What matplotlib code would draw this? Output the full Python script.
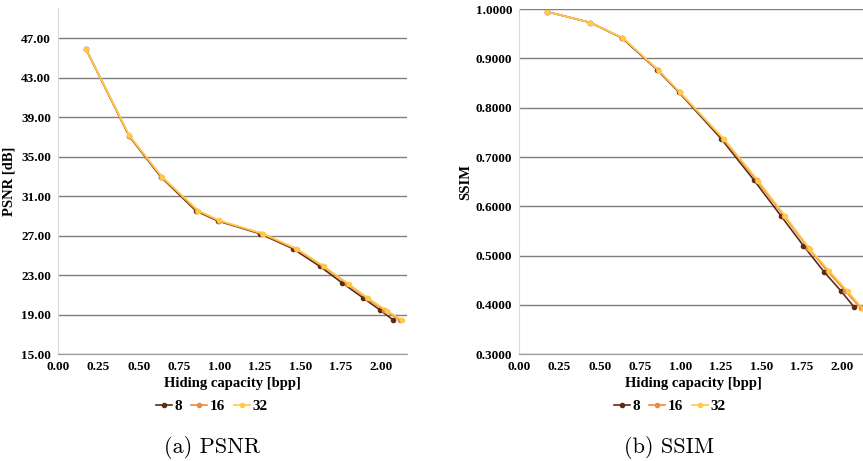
import matplotlib.pyplot as plt

# hiding capacity (bpp) for each block size
cap8 = [0.173, 0.44, 0.636, 0.855, 0.988, 1.25, 1.452, 1.62, 1.76, 1.888, 1.99, 2.075]
cap16 = [0.173, 0.44, 0.640, 0.862, 0.994, 1.262, 1.47, 1.638, 1.788, 1.91, 2.02, 2.115]
cap32 = [0.173, 0.44, 0.642, 0.868, 0.998, 1.27, 1.48, 1.645, 1.80, 1.92, 2.035, 2.128]

# PSNR [dB]
psnr8 = [45.93, 37.1, 32.97, 29.5, 28.5, 27.2, 25.7, 23.9, 22.2, 20.7, 19.5, 18.45]
psnr16 = [45.93, 37.15, 32.98, 29.52, 28.52, 27.2, 25.67, 23.9, 22.15, 20.67, 19.45, 18.45]
psnr32 = [45.93, 37.2, 33.0, 29.55, 28.55, 27.2, 25.65, 23.9, 22.1, 20.65, 19.4, 18.45]

# SSIM
ssim8 = [0.995, 0.973, 0.942, 0.877, 0.832, 0.7375, 0.654, 0.581, 0.520, 0.467, 0.429, 0.395]
ssim16 = [0.995, 0.973, 0.942, 0.876, 0.831, 0.737, 0.653, 0.581, 0.516, 0.468, 0.428, 0.393]
ssim32 = [0.995, 0.973, 0.942, 0.875, 0.831, 0.736, 0.652, 0.581, 0.513, 0.469, 0.427, 0.392]

labels = ["8", "16", "32"]
colors = ["#5b2c14", "#f08a3c", "#ffc94c"]
xticks = [0, 0.25, 0.5, 0.75, 1.0, 1.25, 1.5, 1.75, 2.0]

tickfont = dict(family="Liberation Serif", weight="bold", size=9.5)

fig = plt.figure(figsize=(8.63, 4.61), dpi=100)
ax1 = fig.add_axes([0.0672, 0.232, 0.4044, 0.751])
ax2 = fig.add_axes([0.6014, 0.232, 0.4044, 0.748])


def style(ax):
    ax.grid(axis="y", color="#7f7f7f", linewidth=1)
    ax.set_axisbelow(True)
    for s in ["top", "right"]:
        ax.spines[s].set_visible(False)
    ax.spines["left"].set_color("#d9d9d9")
    ax.spines["bottom"].set_color("#9a9a9a")
    ax.tick_params(length=0, pad=5)
    ax.set_xlim(0, 2.16)
    ax.set_xticks(xticks)
    ax.set_xticklabels(["%.2f" % t for t in xticks], fontdict=tickfont)
    ax.set_xlabel("Hiding capacity [bpp]", family="Liberation Serif",
                  weight="bold", size=10.5, labelpad=3)


caps = [cap8, cap16, cap32]
for cap, y, lab, c in zip(caps, [psnr8, psnr16, psnr32], labels, colors):
    ax1.plot(cap, y, color=c, marker="o", markersize=3, linewidth=1.2, label=lab)
for cap, y, lab, c in zip(caps, [ssim8, ssim16, ssim32], labels, colors):
    ax2.plot(cap, y, color=c, marker="o", markersize=3, linewidth=1.2, label=lab)

style(ax1)
style(ax2)

yt1 = [15, 19, 23, 27, 31, 35, 39, 43, 47]
ax1.set_ylim(15, 50.1)
ax1.set_yticks(yt1)
ax1.set_yticklabels(["%.2f" % t for t in yt1], fontdict=tickfont)
ax1.set_ylabel("PSNR [dB]", family="Liberation Serif", weight="bold", size=10.5, labelpad=4)

yt2 = [0.3, 0.4, 0.5, 0.6, 0.7, 0.8, 0.9, 1.0]
ax2.set_ylim(0.3, 1.0)
ax2.set_yticks(yt2)
ax2.set_yticklabels(["%.4f" % t for t in yt2], fontdict=tickfont)
ax2.set_ylabel("SSIM", family="Liberation Serif", weight="bold", size=10.5, labelpad=2)

legfont = dict(family="Liberation Serif", weight="bold", size=11)
for ax, cx in [(ax1, 212 / 863), (ax2, 670 / 863)]:
    ax.legend(loc="center", bbox_to_anchor=(cx, 1 - 406 / 461), bbox_transform=fig.transFigure,
              ncol=3, frameon=False, prop=legfont, handlelength=1.0, handletextpad=0.2,
              columnspacing=0.6, borderpad=0)

fig.text(212 / 863, 1 - 447 / 461, "(a) PSNR", family="cmr10", size=16, ha="center", va="center")
fig.text(669 / 863, 1 - 447 / 461, "(b) SSIM", family="cmr10", size=16, ha="center", va="center")

fig.savefig("out.png", dpi=100)
